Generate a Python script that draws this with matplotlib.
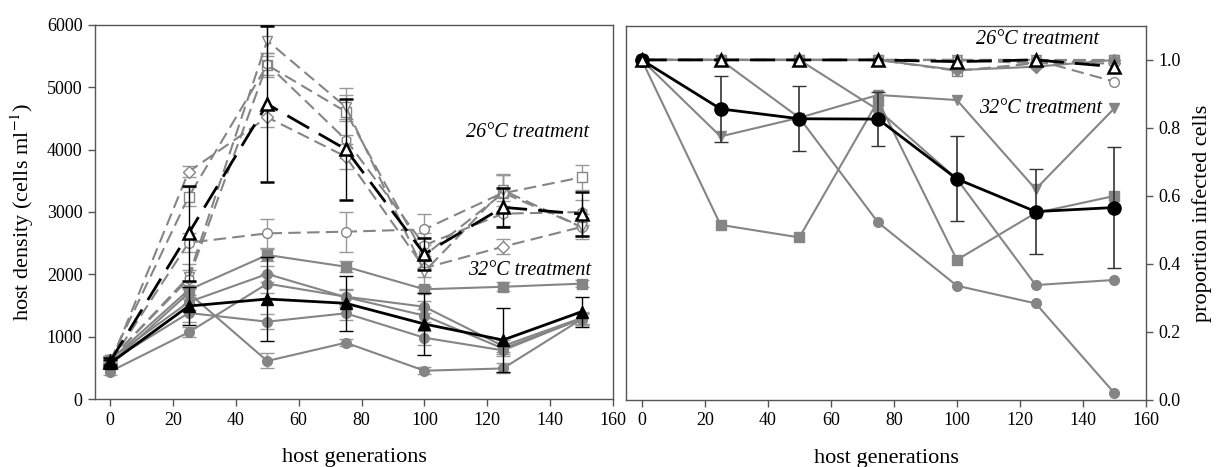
import matplotlib
matplotlib.use('Agg')
import matplotlib.pyplot as plt

plt.rcParams['font.family'] = ['Liberation Serif', 'DejaVu Serif']
plt.rcParams['mathtext.fontset'] = 'stix'

# host generations sampled
gens = [0, 25, 50, 75, 100, 125, 150]

# host density (cells/ml), 26 C replicate lines
d26_square = [610, 3245, 5357, 4609, 2300, 3300, 3556]
d26_diamond = [560, 3646, 4519, 3887, 2100, 2443, 2760]
d26_circle = [580, 2507, 2657, 2684, 2721, 3309, 2760]
d26_tri = [620, 1962, 5750, 4684, 2042, 3350, 2760]
d26_hex = [630, 1925, 5372, 4161, 2467, 2973, 2999]
d26_square_err = [60, 150, 200, 380, 200, 300, 200]
d26_diamond_err = [50, 90, 150, 200, 150, 120, 150]
d26_circle_err = [50, 150, 230, 320, 250, 300, 150]
d26_tri_err = [60, 200, 250, 200, 250, 250, 200]
d26_hex_err = [60, 150, 180, 300, 200, 200, 200]
d26_mean = [600, 2657, 4731, 4005, 2326, 3075, 2967]
d26_mean_err = [60, 765, 1250, 815, 250, 310, 350]

# host density, 32 C replicate lines
d32_square = [620, 1750, 2310, 2122, 1760, 1800, 1850]
d32_circle_a = [560, 1700, 610, 903, 454, 490, 1280]
d32_circle_b = [440, 1070, 1850, 1641, 1480, 850, 1300]
d32_circle_c = [600, 1380, 1240, 1375, 983, 780, 1290]
d32_tri = [640, 1555, 2005, 1634, 1338, 810, 1280]
d32_square_err = [50, 120, 100, 90, 60, 70, 60]
d32_circle_a_err = [50, 100, 120, 60, 60, 80, 90]
d32_circle_b_err = [50, 80, 150, 120, 100, 100, 100]
d32_circle_c_err = [50, 150, 120, 100, 110, 90, 90]
d32_tri_err = [50, 120, 130, 120, 100, 90, 100]
d32_mean = [572, 1491, 1604, 1535, 1203, 946, 1400]
d32_mean_err = [60, 310, 670, 440, 495, 520, 240]

# proportion infected cells, 26 C
p26_square = [1.0, 1.0, 1.0, 1.0, 0.968, 0.99, 1.0]
p26_diamond = [1.0, 1.0, 1.0, 1.0, 1.0, 0.99, 0.99]
p26_circle = [1.0, 1.0, 1.0, 1.0, 1.0, 1.0, 0.936]
p26_tri = [1.0, 1.0, 1.0, 1.0, 1.0, 1.0, 1.0]
p26_hex = [1.0, 1.0, 1.0, 1.0, 1.0, 1.0, 1.0]
p26_mean = [1.0, 1.0, 1.0, 1.0, 0.995, 1.0, 0.98]

# proportion infected cells, 32 C
p32_square = [1.0, 0.515, 0.478, 0.88, 0.412, 0.55, 0.60]
p32_tri = [1.0, 0.775, 0.83, 0.897, 0.882, 0.62, 0.858]
p32_circle_a = [1.0, 1.0, 0.83, 0.522, 0.336, 0.284, 0.02]
p32_circle_b = [1.0, 1.0, 1.0, 0.853, 0.65, 0.338, 0.353]
p32_diamond = [1.0, 1.0, 1.0, 1.0, 0.97, 0.98, 1.0]
p32_mean = [1.0, 0.856, 0.827, 0.826, 0.650, 0.554, 0.566]
p32_mean_err = [0.0, 0.096, 0.095, 0.08, 0.125, 0.124, 0.177]

GREY = '#858585'
SPINE = '#555555'
DASH = (0, (6, 3))
BLACK_DASH = (0, (9, 4))

fig = plt.figure(figsize=(12.16, 4.67), dpi=100)
ax1 = fig.add_axes([0.0781, 0.1456, 0.426, 0.801])
ax2 = fig.add_axes([0.5148, 0.1435, 0.4276, 0.801])


def style_axes(ax):
    for sp in ax.spines.values():
        sp.set_color(SPINE)
        sp.set_linewidth(1.0)
    ax.tick_params(direction='out', length=5, width=1, color=SPINE,
                   labelsize=13, pad=4)


# left panel: 26 C dashed lines with open markers
reps26 = [
    (d26_square, d26_square_err, 's'),
    (d26_diamond, d26_diamond_err, 'D'),
    (d26_circle, d26_circle_err, 'o'),
    (d26_tri, d26_tri_err, 'v'),
    (d26_hex, d26_hex_err, 'h'),
]
for vals, err, mk in reps26:
    ax1.errorbar(gens, vals, yerr=err, color=GREY, ls=DASH, lw=1.5,
                 marker=mk, ms=7 if mk != 'D' else 6, mfc='white', mec=GREY,
                 mew=1.0, ecolor='#999999', elinewidth=1, capsize=5, zorder=2)

# left panel: 32 C solid lines with filled markers
reps32 = [
    (d32_square, d32_square_err, 's'),
    (d32_circle_a, d32_circle_a_err, 'o'),
    (d32_circle_b, d32_circle_b_err, 'o'),
    (d32_circle_c, d32_circle_c_err, 'o'),
    (d32_tri, d32_tri_err, 'o'),
]
for vals, err, mk in reps32:
    ax1.errorbar(gens, vals, yerr=err, color=GREY, ls='-', lw=1.5,
                 marker=mk, ms=7, mfc=GREY, mec=GREY,
                 ecolor='#999999', elinewidth=1, capsize=5, zorder=2)

ax1.errorbar(gens, d26_mean, yerr=d26_mean_err, color='black', ls=BLACK_DASH,
             lw=2, marker='^', ms=9, mfc='white', mec='black', mew=1.8,
             ecolor='black', elinewidth=1, capsize=5, zorder=4)
ax1.errorbar(gens, d32_mean, yerr=d32_mean_err, color='black', ls='-',
             lw=2, marker='^', ms=9, mfc='black', mec='black',
             ecolor='black', elinewidth=1, capsize=5, zorder=4)

ax1.text(152.5, 4270, '26°C treatment', ha='right', va='center',
         style='italic', fontsize=14.5)
ax1.text(153, 2060, '32°C treatment', ha='right', va='center',
         style='italic', fontsize=14.5)

ax1.set_xlim(-4.8, 160)
ax1.set_ylim(0, 6000)
ax1.set_xticks(range(0, 161, 20))
ax1.set_yticks(range(0, 6001, 1000))
ax1.set_xlabel('host generations', fontsize=16, labelpad=14)
ax1.set_ylabel('host density (cells ml$^{-1}$)', fontsize=16, labelpad=8)
style_axes(ax1)

# right panel: 26 C dashed lines
for vals, mk in [(p26_square, 's'), (p26_diamond, 'D'), (p26_circle, 'o'),
                 (p26_tri, 'v'), (p26_hex, 'h')]:
    ax2.plot(gens, vals, color=GREY, ls=DASH, lw=1.5, marker=mk,
             ms=7 if mk != 'D' else 6, mfc='white', mec=GREY, zorder=2)

# right panel: 32 C solid lines
for vals, mk in [(p32_square, 's'), (p32_tri, 'v'), (p32_circle_a, 'o'),
                 (p32_circle_b, 'o'), (p32_diamond, 'D')]:
    ax2.plot(gens, vals, color=GREY, ls='-', lw=1.5, marker=mk,
             ms=7 if mk != 'D' else 6, mfc=GREY, mec=GREY, zorder=2)

ax2.errorbar(gens, p32_mean, yerr=p32_mean_err, color='black', ls='-',
             lw=2, marker='o', ms=9.5, mfc='black', mec='black',
             ecolor='#333333', elinewidth=1.2, capsize=5, zorder=4)
ax2.plot(gens, p26_mean, color='black', ls=BLACK_DASH, lw=2, marker='^',
         ms=9, mfc='white', mec='black', mew=1.8, zorder=5)

ax2.text(145, 1.06, '26°C treatment', ha='right', va='center',
         style='italic', fontsize=14.5)
ax2.text(146, 0.858, '32°C treatment', ha='right', va='center',
         style='italic', fontsize=14.5)

ax2.set_xlim(-5, 160)
ax2.set_ylim(0, 1.1)
ax2.set_xticks(range(0, 161, 20))
ax2.set_yticks([0.0, 0.2, 0.4, 0.6, 0.8, 1.0])
ax2.set_yticklabels(['0.0', '0.2', '0.4', '0.6', '0.8', '1.0'])
ax2.yaxis.tick_right()
ax2.yaxis.set_label_position('right')
ax2.set_xlabel('host generations', fontsize=16, labelpad=14)
ax2.set_ylabel('proportion infected cells', fontsize=16, labelpad=8)
style_axes(ax2)

fig.savefig('out.png', dpi=100)
